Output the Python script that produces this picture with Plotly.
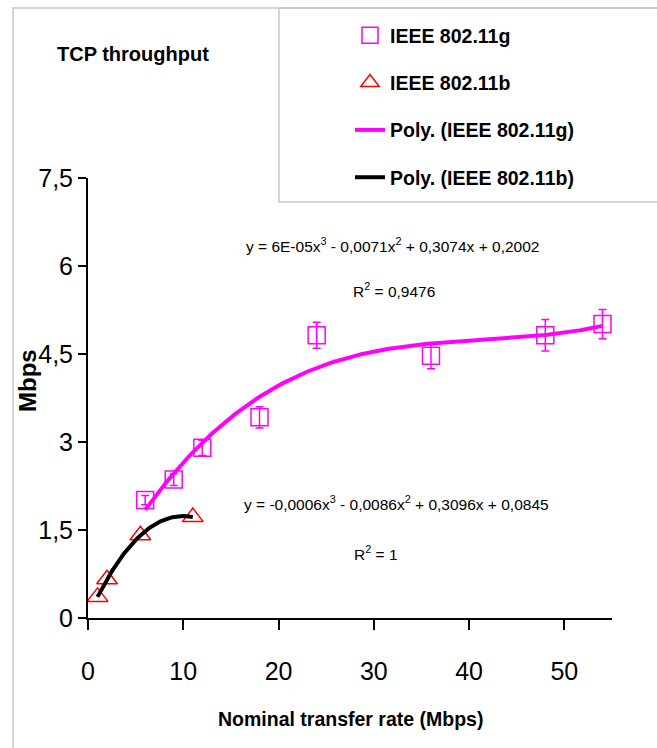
import numpy as np
import plotly.graph_objects as go

# ---- data ----
g_rate = [6, 9, 12, 18, 24, 36, 48, 54]
g_tput = [2.01, 2.36, 2.90, 3.42, 4.82, 4.47, 4.82, 5.01]
g_err = [0.08, 0.10, 0.13, 0.18, 0.22, 0.22, 0.27, 0.25]

b_rate = [1, 2, 5.5, 11]
b_tput = [0.36, 0.66, 1.41, 1.72]

y_tickvals = [0, 1.5, 3, 4.5, 6, 7.5]
y_ticktext = ["0", "1,5", "3", "4,5", "6", "7,5"]
x_tickvals = [0, 10, 20, 30, 40, 50]

eq_g = "y = 6E-05x<sup>3</sup> - 0,0071x<sup>2</sup> + 0,3074x + 0,2002"
r2_g = "R<sup>2</sup> = 0,9476"
eq_b = "y = -0,0006x<sup>3</sup> - 0,0086x<sup>2</sup> + 0,3096x + 0,0845"
r2_b = "R<sup>2</sup> = 1"

# ---- polynomial trend lines (3rd order least squares, as the chart's "Poly." fits) ----
cg = np.polyfit(g_rate, g_tput, 3)
xg = np.linspace(min(g_rate), max(g_rate), 200)
yg = np.polyval(cg, xg)
cb = np.polyfit(b_rate, b_tput, 3)
xb = np.linspace(min(b_rate), max(b_rate), 100)
yb = np.polyval(cb, xb)

FONT = "Liberation Sans, Arial, sans-serif"
MAG = "#FF00FF"
RED = "#FF0000"

fig = go.Figure()
fig.add_trace(go.Scatter(
    x=g_rate, y=g_tput, mode="markers", name="<b>IEEE 802.11g</b>",
    legendgroup="a",
    marker=dict(symbol="square-open", size=17, color=MAG, line=dict(width=1.5, color=MAG)),
    error_y=dict(type="data", array=g_err, visible=True, color=MAG, thickness=1.5, width=4),
))
fig.add_trace(go.Scatter(
    x=b_rate, y=b_tput, mode="markers", name="<b>IEEE 802.11b</b>",
    legendgroup="b",
    marker=dict(symbol="triangle-up-open", size=18, color=RED, line=dict(width=1.5, color=RED)),
))
fig.add_trace(go.Scatter(
    x=xg, y=yg, mode="lines", name="<b>Poly. (IEEE 802.11g)</b>", legendgroup="c",
    line=dict(color=MAG, width=4),
))
fig.add_trace(go.Scatter(
    x=xb, y=yb, mode="lines", name="<b>Poly. (IEEE 802.11b)</b>", legendgroup="d",
    line=dict(color="black", width=4),
))

ann_font = dict(family=FONT, size=15.5, color="black")
annotations = [
    dict(x=32.0, y=6.35, xref="x", yref="y", text=eq_g, showarrow=False, font=ann_font),
    dict(x=32.1, y=5.59, xref="x", yref="y", text=r2_g, showarrow=False, font=ann_font),
    dict(x=32.4, y=1.96, xref="x", yref="y", text=eq_b, showarrow=False, font=ann_font),
    dict(x=30.2, y=1.11, xref="x", yref="y", text=r2_b, showarrow=False, font=ann_font),
    dict(x=-0.063, y=(618 - 54) / 440, xref="paper", yref="paper", xanchor="left", yanchor="middle",
         text="<b>TCP throughput</b>", showarrow=False, font=dict(family=FONT, size=20, color="black")),
    dict(x=0.5, y=(618 - 719) / 440, xref="paper", yref="paper", xanchor="center", yanchor="middle",
         text="<b>Nominal transfer rate (Mbps)</b>", showarrow=False,
         font=dict(family=FONT, size=19.5, color="black")),
    dict(x=(27 - 88) / 524, y=(618 - 381) / 440, xref="paper", yref="paper", xanchor="center", yanchor="middle",
         text="<b>Mbps</b>", textangle=-90, showarrow=False, font=dict(family=FONT, size=24, color="black")),
]

shapes = [
    # outer chart border
    dict(type="rect", xref="paper", yref="paper", x0=(13 - 88) / 524, x1=(700 - 88) / 524,
         y0=(618 - 800) / 440, y1=(618 - 8) / 440, line=dict(color="#C8C8C8", width=1.5),
         fillcolor="rgba(0,0,0,0)", layer="below"),
    # legend border
    dict(type="rect", xref="paper", yref="paper", x0=(279 - 88) / 524, x1=(700 - 88) / 524,
         y0=(618 - 202) / 440, y1=(618 - 8) / 440, line=dict(color="#C8C8C8", width=1.5),
         fillcolor="rgba(0,0,0,0)", layer="below"),
]

fig.update_layout(
    width=657, height=748,
    margin=dict(l=88, r=45, t=178, b=130),
    paper_bgcolor="white", plot_bgcolor="white",
    showlegend=True,
    legend=dict(x=(350 - 88) / 524, y=(618 - 16) / 440, xanchor="left", yanchor="top",
                font=dict(family=FONT, size=19.5, color="black"),
                bgcolor="rgba(0,0,0,0)", borderwidth=0, tracegroupgap=19,
                traceorder="grouped"),
    annotations=annotations,
    shapes=shapes,
    xaxis=dict(range=[0, 55], tickvals=x_tickvals, showgrid=False, zeroline=False,
               showline=True, linecolor="black", linewidth=2,
               ticks="outside", ticklen=10, tickwidth=1.5, tickcolor="black",
               ticklabelstandoff=20,
               tickfont=dict(family=FONT, size=25, color="black")),
    yaxis=dict(range=[0, 7.5], tickvals=y_tickvals, ticktext=y_ticktext, showgrid=False, zeroline=False,
               showline=True, linecolor="black", linewidth=2,
               ticks="outside", ticklen=8, tickwidth=1.5, tickcolor="black",
               tickfont=dict(family=FONT, size=25, color="black")),
)

fig.write_html("out.html")
